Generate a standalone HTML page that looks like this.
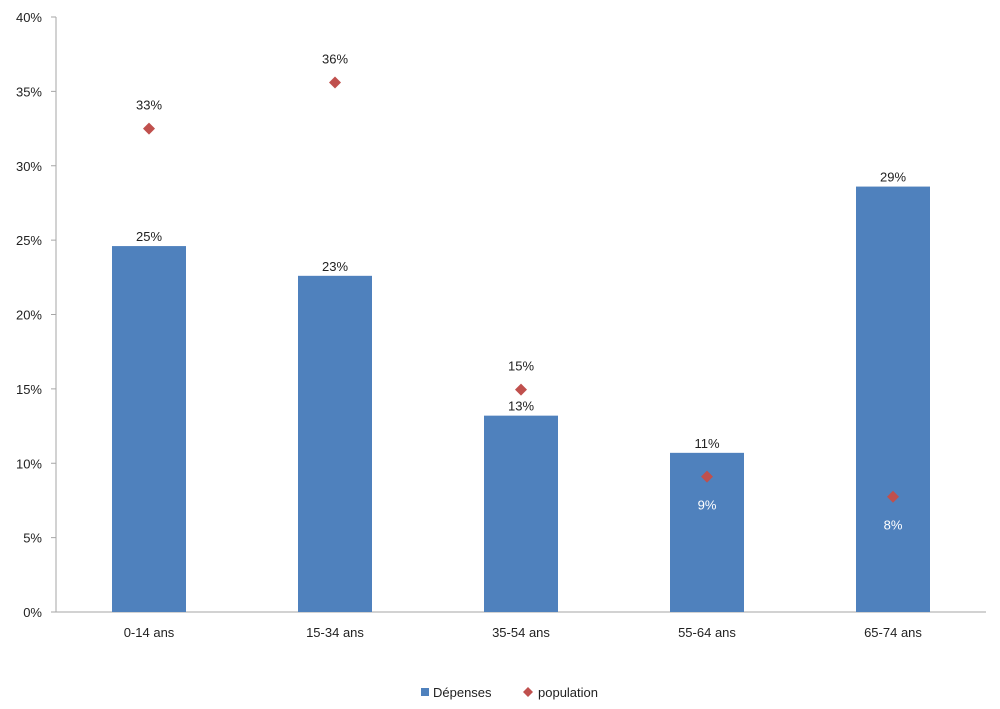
<!DOCTYPE html>
<html><head><meta charset="utf-8">
<style>
body{margin:0;background:#fff;}
svg{display:block;font-family:"Liberation Sans",sans-serif;}
</style></head>
<body>
<svg id="chart" width="1000" height="709" viewBox="0 0 1000 709"></svg>
<script>
const categories = ["0-14 ans","15-34 ans","35-54 ans","55-64 ans","65-74 ans"];
const depenses = [24.6, 22.6, 13.2, 10.7, 28.6];
const population = [32.5, 35.6, 14.95, 9.1, 7.75];
const depLabels = ["25%","23%","13%","11%","29%"];
const popLabels = ["33%","36%","15%","9%","8%"];
const yTicks = [0,5,10,15,20,25,30,35,40];

const NS="http://www.w3.org/2000/svg";
const svg=document.getElementById('chart');
const X0=56, X1=986, Y0=612, Y1=17, YMAX=40;
const band=(X1-X0)/categories.length;
const y=v=>Y0-(v/YMAX)*(Y0-Y1);
const xc=i=>X0+band*(i+0.5);
function mk(t,a,txt){const e=document.createElementNS(NS,t);for(const k in a)e.setAttribute(k,a[k]);if(txt!==undefined)e.textContent=txt;svg.appendChild(e);return e;}

const yAxis=mk('line',{x1:X0,y1:Y1,x2:X0,y2:Y0,stroke:'#a6a6a6','stroke-width':1});


yTicks.forEach(t=>{
  const tk=mk('line',{x1:X0-5,y1:y(t),x2:X0,y2:y(t),stroke:'#a6a6a6'});
  
  
  const lb=mk('text',{x:42,y:y(t)+5,'text-anchor':'end','font-size':13,fill:'#222'},t+'%');
  
  
});
const xAxis=mk('line',{x1:X0,y1:Y0,x2:X1,y2:Y0,stroke:'#a6a6a6'});



const BW=74;
categories.forEach((c,i)=>{
  const b=mk('rect',{x:xc(i)-BW/2,y:y(depenses[i]),width:BW,height:Y0-y(depenses[i]),fill:'#4f81bd'});
  
  
  const bl=mk('text',{x:xc(i),y:y(depenses[i])-5,'text-anchor':'middle','font-size':13,fill:'#222'},depLabels[i]);
  
  
  const px=xc(i), py=y(population[i]);
  const d=mk('polygon',{points:`${px},${py-6} ${px+6},${py} ${px},${py+6} ${px-6},${py}`,fill:'#c0504d'});
  
  
  const inside = population[i] < depenses[i];
  const pl=mk('text',{x:px,y:inside?py+33:py-19,'text-anchor':'middle','font-size':13,fill:inside?'#fff':'#222'},popLabels[i]);
  
  
  const xl=mk('text',{x:xc(i),y:637,'text-anchor':'middle','font-size':13,fill:'#222'},c);
  
  
});

const l1=mk('rect',{x:421,y:688,width:8,height:8,fill:'#4f81bd'});


const t1=mk('text',{x:433,y:697,'font-size':13,fill:'#222'},'Dépenses');


const l2=mk('polygon',{points:'528,687 533,692 528,697 523,692',fill:'#c0504d'});


const t2=mk('text',{x:538,y:697,'font-size':13,fill:'#222'},'population');


</script>
</body></html>
